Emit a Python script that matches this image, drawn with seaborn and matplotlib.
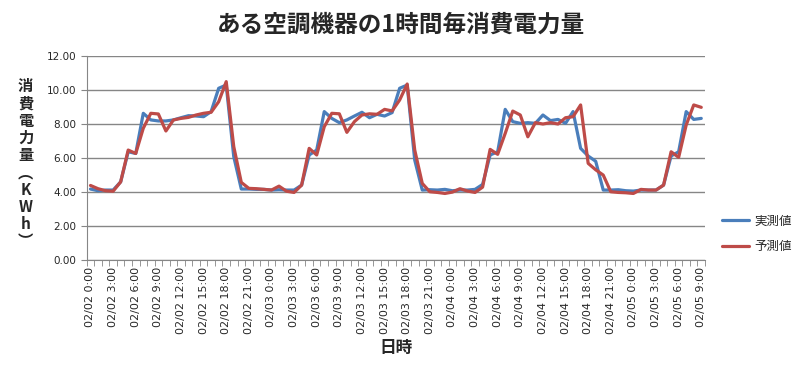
# Hourly power consumption of an air-conditioner: measured vs predicted
import pandas as pd
import matplotlib.pyplot as plt
import seaborn as sns
from matplotlib.ticker import FixedLocator

times = pd.date_range('2017-02-02 00:00', periods=82, freq='h')
tick_labels = [f'{t:%m/%d} {t.hour}:00' for t in times]
y_ticks = [0, 2, 4, 6, 8, 10, 12]

measured = [4.18, 4.08, 4.12, 4.12, 4.60, 6.37, 6.27, 8.63, 8.24, 8.18,
            8.18, 8.24, 8.37, 8.49, 8.47, 8.43, 8.73, 10.10, 10.29, 6.08,
            4.18, 4.18, 4.16, 4.16, 4.12, 4.14, 4.12, 4.12, 4.41, 6.18,
            6.47, 8.73, 8.33, 8.08, 8.24, 8.47, 8.69, 8.37, 8.57, 8.47,
            8.67, 10.10, 10.29, 5.88, 4.12, 4.14, 4.12, 4.16, 4.08, 4.12,
            4.12, 4.16, 4.45, 6.18, 6.37, 8.86, 8.14, 8.04, 8.08, 8.04,
            8.53, 8.20, 8.27, 8.04, 8.73, 6.57, 6.12, 5.81, 4.12, 4.12,
            4.14, 4.08, 4.06, 4.12, 4.12, 4.12, 4.41, 6.12, 6.37, 8.73,
            8.27, 8.33]
predicted = [4.39, 4.20, 4.08, 4.05, 4.60, 6.47, 6.27, 7.75, 8.63, 8.59,
             7.59, 8.24, 8.33, 8.39, 8.53, 8.63, 8.69, 9.31, 10.49, 6.67,
             4.57, 4.22, 4.20, 4.16, 4.12, 4.35, 4.05, 3.98, 4.41, 6.57,
             6.18, 7.84, 8.63, 8.60, 7.51, 8.14, 8.53, 8.60, 8.57, 8.86,
             8.77, 9.41, 10.35, 6.47, 4.51, 4.02, 3.98, 3.92, 4.00, 4.20,
             4.06, 3.98, 4.29, 6.51, 6.22, 7.45, 8.76, 8.53, 7.25, 8.08,
             8.00, 8.08, 8.00, 8.37, 8.43, 9.12, 5.69, 5.31, 5.00, 4.02,
             3.98, 3.96, 3.92, 4.16, 4.12, 4.12, 4.41, 6.37, 6.04, 7.94,
             9.12, 8.98]

series_names = ['実測値', '予測値']
colors = ['#4A7EBB', '#BE4B48']

df = pd.DataFrame({
    'idx': list(range(len(times))) * 2,
    'kwh': measured + predicted,
    'series': [series_names[0]] * len(measured) + [series_names[1]] * len(predicted),
})

sns.set_style('white')
plt.rcParams['font.family'] = ['Noto Sans CJK JP', 'DejaVu Sans']

fig = plt.figure(figsize=(8.03, 3.68), dpi=100)
ax = fig.add_axes([0.108, 0.293, 0.770, 0.555])

sns.lineplot(data=df, x='idx', y='kwh', hue='series', palette=colors,
             linewidth=2.3, ax=ax)

ax.set_yticks(y_ticks)
ax.set_yticklabels([f'{v:.2f}' for v in y_ticks], family='DejaVu Sans', fontsize=7.5)
ax.set_xlim(-0.5, len(times) - 0.5)
ax.set_ylim(0, 12)
ax.grid(axis='y', color='#868686', linewidth=1)
ax.set_axisbelow(True)

ax.set_xticks(range(0, len(times), 3))
ax.set_xticklabels(tick_labels[::3], rotation=90, fontsize=8, family='DejaVu Sans')
ax.xaxis.set_minor_locator(FixedLocator([i - 0.5 for i in range(len(times) + 1)]))
ax.tick_params(axis='x', which='major', length=0, pad=5)
ax.tick_params(axis='x', which='minor', length=4, color='#868686', direction='out', bottom=True)
ax.tick_params(axis='y', length=4, color='#868686', direction='out', left=True)

for side in ['top', 'right']:
    ax.spines[side].set_visible(False)
for side in ['left', 'bottom']:
    ax.spines[side].set_color('#868686')

ax.set_xlabel('日時', fontsize=12, fontweight='bold', labelpad=3)
ax.set_ylabel('')
fig.text(0.032, 0.555, '\n'.join(['消', '費', '電', '力', '量', '︵', 'K', 'W', 'h', '︶']),
         ha='center', va='center', fontsize=11, fontweight='bold', linespacing=1.1)

fig.suptitle('ある空調機器の1時間毎消費電力量', fontsize=17, fontweight='bold',
             x=0.5, y=0.965)

ax.legend(loc='center left', bbox_to_anchor=(0.885, 0.365),
          bbox_transform=fig.transFigure, frameon=False, fontsize=9,
          handlelength=2.2, handletextpad=0.4, labelspacing=1.0, title=None)

fig.savefig('out.png', dpi=100)
